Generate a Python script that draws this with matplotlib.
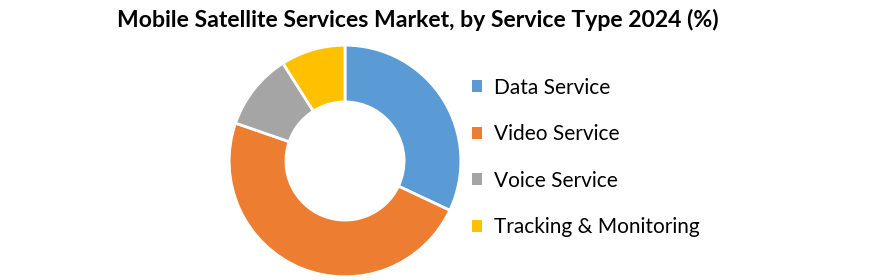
import matplotlib
matplotlib.use("Agg")
import matplotlib.pyplot as plt

categories = ["Data Service", "Video Service", "Voice Service", "Tracking & Monitoring"]
shares = [32.0, 48.3, 10.7, 9.0]
colors = ["#5B9BD5", "#ED7D31", "#A5A5A5", "#FFC000"]
title = "Mobile Satellite Services Market, by Service Type 2024 (%)"

W, H = 875, 280
fig = plt.figure(figsize=(W / 100, H / 100), dpi=100)
fig.patch.set_facecolor("white")

cx, cy, r = 345, 161, 117
ax = fig.add_axes([(cx - r) / W, (H - cy - r) / H, 2 * r / W, 2 * r / H])
wedges, _ = ax.pie(shares, colors=colors, startangle=90, counterclock=False,
                   radius=1.0, wedgeprops=dict(width=0.49, edgecolor="white", linewidth=2))
ax.set_xlim(-1.01, 1.01)
ax.set_ylim(-1.01, 1.01)
ax.set_aspect("equal")
ax.axis("off")

fig.text(418 / W, 1 - 20 / H, title, ha="center", va="center",
         fontsize=16.6, fontweight="bold", family="Lato")

leg = fig.legend(wedges, categories, loc="upper left", bbox_to_anchor=(453 / W, 1 - 59 / H),
                 frameon=False, handlelength=0.5, handleheight=0.5, handletextpad=0.55,
                 labelspacing=1.27, prop=dict(family="Lato", size=15))
for h in leg.legend_handles:
    h.set_edgecolor("none")

fig.savefig("out.png", dpi=100, facecolor="white")
